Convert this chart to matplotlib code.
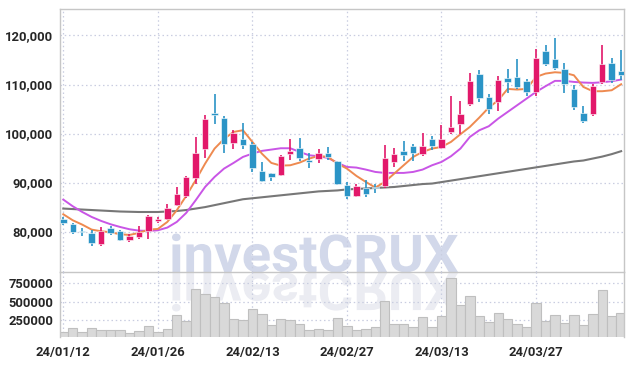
import numpy as np
import matplotlib
matplotlib.use("Agg")
import matplotlib.pyplot as plt
from matplotlib.textpath import TextPath
from matplotlib.patches import PathPatch
from matplotlib.font_manager import FontProperties
from matplotlib.transforms import Affine2D, IdentityTransform

tick_index = [0, 10, 20, 30, 40, 50]
tick_labels = ["24/01/12", "24/01/26", "24/02/13", "24/02/27", "24/03/13", "24/03/27"]

opens = [82580, 81500, 80100, 79660, 77480, 80680, 80070, 78370, 78910, 80070,
         82180, 82580, 85440, 87210, 91020, 96930, 104270, 103120, 98090, 98840,
         97950, 92310, 91900, 91560, 95840, 97070, 94690, 94800, 96100, 94350,
         89450, 87280, 88980, 89050, 89250, 94210, 96390, 97480, 95910, 98900,
         97140, 100330, 101900, 106040, 112100, 107400, 106450, 111280, 111480, 110670,
         108490, 116790, 115290, 113250, 109170, 104140, 104000, 110460, 114340, 112710]
closes = [81770, 80000, 80000, 77690, 80070, 79730, 78370, 79120, 80000, 83130,
          82650, 84900, 87620, 91150, 95980, 102920, 103870, 97880, 100130, 97610,
          92990, 90340, 91080, 95370, 96390, 95030, 94210, 96100, 95200, 89720,
          87280, 89320, 87620, 88950, 95030, 95780, 95570, 96050, 97410, 97410,
          98840, 101280, 104070, 110670, 107200, 105020, 111010, 110530, 109510, 108490,
          115500, 114200, 113390, 110190, 105430, 102580, 109650, 114140, 110870, 111890]
highs = [82990, 81840, 80820, 80270, 80950, 81090, 80270, 79460, 81090, 83330,
         82990, 85710, 89110, 91420, 99310, 103870, 108150, 103530, 100670, 102170,
         98290, 94210, 92000, 95570, 98840, 99040, 96120, 96900, 97200, 94500,
         90130, 89790, 90610, 89660, 97610, 97140, 98500, 97950, 100130, 99450,
         101690, 107680, 106660, 112440, 113050, 108150, 111820, 113250, 115290, 111210,
         117330, 118010, 119580, 114480, 109990, 105640, 110190, 118010, 115360, 116990]
lows = [81290, 79590, 79050, 77010, 77140, 79250, 78100, 77820, 78570, 78570,
        81770, 82310, 85170, 86800, 89660, 94960, 102030, 96120, 96930, 96800,
        92170, 90060, 90340, 91420, 94550, 94420, 93060, 94000, 94700, 89520,
        86600, 87000, 87070, 87960, 88980, 93190, 94420, 94420, 95370, 96590,
        96860, 99990, 99990, 105640, 106520, 104070, 104550, 108290, 109170, 107740,
        107610, 113860, 112910, 108360, 104750, 102170, 103660, 110060, 110400, 110870]

ma_short = [83540, 82310, 81430, 80410, 80070, 79860, 79460, 79320, 79730, 80410,
            80540, 81970, 84350, 87280, 90470, 93870, 96930, 98900, 100330, 100670,
            98290, 95910, 94010, 93460, 93530, 94080, 94890, 95440, 95230, 93870,
            92850, 91360, 90130, 88980, 90130, 91830, 93530, 95230, 96250, 96930,
            97270, 98290, 99860, 101350, 103260, 105300, 106790, 109100, 108970, 109100,
            111550, 112230, 112500, 112370, 111890, 109510, 108630, 108630, 108830, 110060]
ma_mid = [86530, 85170, 84010, 82990, 82180, 81500, 80950, 80480, 80200, 80140,
          80270, 80820, 81970, 83810, 86390, 89110, 91150, 92850, 94000, 95230,
          95910, 96460, 96730, 97000, 97000, 96250, 95570, 95370, 95030, 94010,
          93190, 93060, 92650, 92170, 91970, 91970, 91970, 92170, 92650, 93530,
          94210, 95370, 96930, 99310, 100670, 101490, 103050, 104410, 105770, 107130,
          108490, 109650, 110740, 110740, 110530, 110400, 110330, 110460, 110670, 111010]
ma_long = [84700, 84600, 84500, 84400, 84300, 84200, 84100, 84050, 84000, 84000,
           84000, 84100, 84200, 84400, 84700, 85000, 85400, 85800, 86200, 86600,
           86800, 87000, 87200, 87400, 87600, 87800, 88000, 88200, 88300, 88400,
           88600, 88700, 88800, 88900, 89000, 89100, 89300, 89500, 89700, 89800,
           90100, 90400, 90700, 91000, 91300, 91600, 91900, 92200, 92500, 92800,
           93100, 93400, 93700, 94000, 94300, 94500, 94900, 95300, 95800, 96400]

volumes = [82000, 137000, 82000, 137000, 110000, 110000, 110000, 69000, 96000, 164000,
           82000, 123000, 314000, 232000, 668000, 600000, 559000, 477000, 260000, 246000,
           396000, 328000, 178000, 260000, 246000, 191000, 110000, 123000, 110000, 273000,
           164000, 110000, 123000, 150000, 505000, 191000, 191000, 150000, 287000, 150000,
           300000, 818000, 450000, 573000, 300000, 219000, 341000, 260000, 191000, 150000,
           477000, 232000, 314000, 205000, 314000, 178000, 328000, 655000, 300000, 341000]

UP = "#e2186a"
DOWN = "#2b94c6"
GRID = "#c9cde0"
LABEL_FONT = ["Roboto", "DejaVu Sans"]

fig = plt.figure(figsize=(6.34, 3.66), dpi=100)
ax = fig.add_axes([0.0946, 0.256, 0.8896, 0.7194])
axv = fig.add_axes([0.0946, 0.080, 0.8896, 0.176], sharex=ax)
ax.set_facecolor("none")
axv.set_facecolor("none")

x = np.arange(len(opens))
o = np.array(opens)
c = np.array(closes)
up = c >= o
colors = np.where(up, UP, DOWN)

ax.vlines(x, lows, highs, colors=colors, linewidth=1.2, zorder=3)
body_low = np.minimum(o, c)
body_h = np.maximum(np.abs(c - o), 180)
ax.bar(x, body_h, bottom=body_low, width=0.68, color=colors,
       edgecolor="#ffffff", linewidth=0.4, zorder=4)

ax.plot(x, ma_long, color="#777777", linewidth=1.5, zorder=2)
ax.plot(x, ma_mid, color="#c955e6", linewidth=1.4, zorder=2)
ax.plot(x, ma_short, color="#ee8a50", linewidth=1.4, zorder=2)

ax.set_ylim(71700, 125400)
ax.set_yticks([80000, 90000, 100000, 110000, 120000])
ax.set_yticklabels(["{:,}".format(v) for v in [80000, 90000, 100000, 110000, 120000]])
ax.set_xlim(-0.35, 59.3)

axv.bar(x, volumes, width=1.0, color="#d9d9d9", edgecolor="#bfbfbf", linewidth=0.8, zorder=2)
axv.set_ylim(22000, 900000)
axv.set_yticks([250000, 500000, 750000])
axv.set_yticklabels(["250000", "500000", "750000"])
axv.set_xticks(tick_index)
axv.set_xticklabels(tick_labels)

for a in (ax, axv):
    a.grid(True, color=GRID, linestyle=(0, (1.2, 2.2)), linewidth=0.9)
    a.set_axisbelow(True)
    a.tick_params(length=0, labelsize=9.4, labelcolor="#262626", pad=5)
    for lab in a.get_yticklabels() + a.get_xticklabels():
        lab.set_family(LABEL_FONT)
        lab.set_fontweight("bold")
    for side in ("left", "right", "top", "bottom"):
        a.spines[side].set_color("#c6c6c6")
        a.spines[side].set_linewidth(1.0)
plt.setp(ax.get_xticklabels(), visible=False)
axv.spines["top"].set_visible(False)
axv.spines["bottom"].set_visible(False)
axv.tick_params(axis="x", pad=7)

# watermark with reflection, placed in output pixels, under the axes
prop = FontProperties(family=LABEL_FONT, weight="bold")
tp = TextPath((0, 0), "investCRUX", size=54, prop=prop)
bb = tp.get_extents()
sx = 286.0 / bb.width
sy = 39.0 / bb.height
x0 = 172 - bb.x0 * sx
base = 366 - 272.0
mark = PathPatch(tp, transform=Affine2D().scale(sx, sy).translate(x0, base) + IdentityTransform(),
                 facecolor="#d2d8ea", edgecolor="none", zorder=-1)
refl = PathPatch(tp, transform=Affine2D().scale(sx, -sy).translate(x0, base - 1) + IdentityTransform(),
                 facecolor="#ebecf2", edgecolor="none", zorder=-1)
fig.patches.extend([mark, refl])

fig.savefig("out.png", dpi=100)
